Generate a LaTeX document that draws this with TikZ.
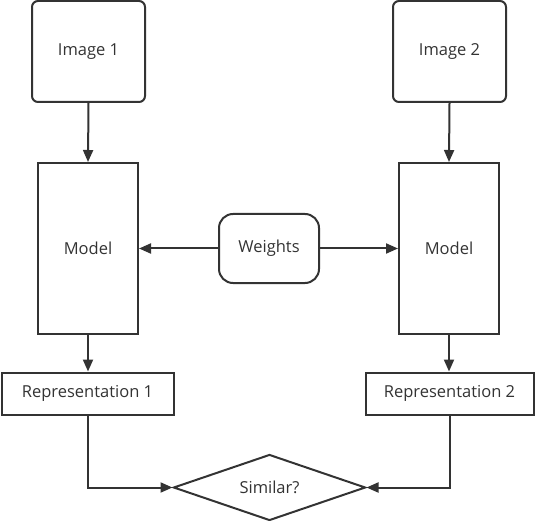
\documentclass[tikz,border=0pt]{standalone}
\usepackage{fontspec}
\setmainfont{Open Sans}
\usetikzlibrary{arrows.meta,shapes.geometric}
\definecolor{ink}{HTML}{333333}
\tikzset{
  box/.style={draw=ink,line width=2pt,text=ink,inner sep=0pt,font=\fontsize{16.5}{19}\selectfont},
  rbox/.style={box,rounded corners=6pt},
  conn/.style={draw=ink,line width=2pt,-{Triangle[length=12pt,width=10pt]}},
}
\begin{document}
\begin{tikzpicture}[x=1pt,y=-1pt]
\useasboundingbox (0,0) rectangle (535,521);
\node[rbox,minimum width=113pt,minimum height=101pt] (img1) at (88.5,51.5) {Image 1};
\node[rbox,minimum width=113pt,minimum height=101pt] (img2) at (449.5,51.5) {Image 2};
\node[box,minimum width=100pt,minimum height=171pt] (m1) at (88,248.5) {Model};
\node[box,minimum width=100pt,minimum height=171pt] (m2) at (449,248.5) {Model};
\node[rbox,rounded corners=14pt,minimum width=100pt,minimum height=69pt] (w) at (269,248.5) {Weights};
\node[box,minimum width=172pt,minimum height=42pt] (r1) at (87.5,393.5) {Representation 1};
\node[box,minimum width=168pt,minimum height=42pt] (r2) at (449.5,393.5) {Representation 2};
\node[box,diamond,minimum width=192pt,minimum height=66pt,aspect=2.9] (s) at (269.5,487.5) {Similar?};
\coordinate (c1) at (88,487.5);
\coordinate (c2) at (449.5,487.5);
\draw[conn] (img1.south) -- (m1.north);
\draw[conn] (img2.south) -- (m2.north);
\draw[conn] (w.west) -- (m1.east);
\draw[conn] (w.east) -- (m2.east -| m2.west);
\draw[conn] (m1.south) -- (r1.north -| m1.south);
\draw[conn] (m2.south) -- (r2.north -| m2.south);
\draw[conn] (r1.south -| c1) -- (c1) -- (s.west);
\draw[conn] (r2.south -| c2) -- (c2) -- (s.east);
\end{tikzpicture}
\end{document}
